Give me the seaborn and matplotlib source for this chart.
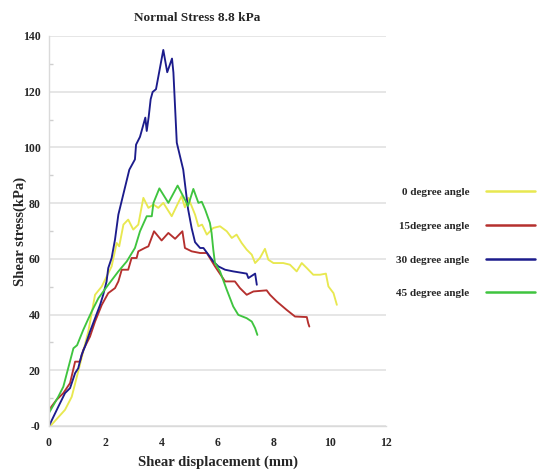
import matplotlib
matplotlib.use("Agg")
import matplotlib.pyplot as plt
from matplotlib.lines import Line2D
import numpy as np
import pandas as pd
import seaborn as sns

# Shear displacement (mm) and shear stress (kPa) for each interface angle
disp_0 = [0.05, 0.57, 0.81, 1.10, 1.40, 1.64, 1.88, 2.23, 2.41, 2.50, 2.65, 2.82, 3.00,
          3.18, 3.36, 3.54, 3.72, 3.89, 4.07, 4.37, 4.60, 4.72, 4.84, 4.96, 5.20, 5.32,
          5.45, 5.62, 5.85, 6.09, 6.33, 6.51, 6.68, 6.86, 7.04, 7.22, 7.34, 7.51, 7.69,
          7.81, 7.99, 8.34, 8.58, 8.82, 9.00, 9.18, 9.41, 9.65, 9.86, 9.95, 10.13, 10.25]
stress_0 = [0.0, 5.8, 10.5, 22.0, 34.0, 47.1, 50.1, 57.3, 65.7, 64.5, 72.3, 74.1, 70.5,
            72.3, 81.9, 78.3, 79.5, 78.3, 80.1, 75.3, 80.1, 82.5, 78.5, 81.9, 75.9, 71.7,
            72.3, 68.7, 71.1, 71.7, 69.9, 67.5, 68.7, 65.7, 63.3, 61.5, 58.5, 60.3, 63.6,
            59.7, 58.5, 58.5, 57.9, 55.5, 58.5, 56.7, 54.3, 54.3, 54.7, 50.1, 47.7, 43.5]

disp_15 = [0.0, 0.27, 0.51, 0.75, 0.93, 1.10, 1.22, 1.34, 1.46, 1.64, 1.88, 2.11, 2.35,
           2.47, 2.59, 2.82, 2.94, 3.12, 3.18, 3.41, 3.54, 3.74, 4.01, 4.25, 4.49, 4.75,
           4.84, 5.08, 5.38, 5.62, 5.91, 6.15, 6.27, 6.62, 6.80, 7.04, 7.28, 7.75, 7.87,
           8.11, 8.46, 8.76, 9.18, 9.23, 9.27]
stress_15 = [5.8, 9.4, 11.8, 15.4, 23.1, 23.1, 27.3, 29.7, 32.1, 37.5, 43.5, 47.7, 49.5,
             51.9, 56.1, 56.1, 60.3, 60.3, 62.7, 63.9, 64.5, 69.9, 66.6, 69.3, 67.2, 69.9,
             63.9, 62.7, 62.1, 62.1, 57.3, 53.7, 51.9, 51.9, 49.5, 47.1, 48.3, 48.7, 47.1,
             44.7, 41.7, 39.3, 39.1, 36.9, 35.7]

disp_30 = [0.0, 0.33, 0.57, 0.75, 0.93, 1.04, 1.16, 1.28, 1.46, 1.64, 1.82, 1.93, 2.05,
           2.11, 2.23, 2.35, 2.47, 2.86, 3.06, 3.10, 3.24, 3.43, 3.48, 3.55, 3.62, 3.69,
           3.81, 4.07, 4.21, 4.38, 4.43, 4.55, 4.78, 4.95, 5.08, 5.20, 5.38, 5.50, 5.85,
           6.03, 6.27, 6.56, 7.04, 7.10, 7.22, 7.34, 7.40]
stress_30 = [0.0, 6.9, 11.8, 13.6, 19.0, 20.7, 25.5, 28.5, 33.9, 38.7, 43.5, 47.1, 51.9,
             56.7, 60.3, 66.9, 75.9, 92.0, 95.7, 101.0, 103.8, 110.7, 105.9, 111.0, 117.3,
             119.9, 120.9, 135.0, 127.0, 131.9, 126.9, 101.7, 92.0, 78.0, 71.0, 66.0, 63.9,
             63.9, 59.1, 57.3, 56.1, 55.5, 54.7, 53.1, 53.9, 54.7, 50.7]

disp_45 = [0.0, 0.33, 0.51, 0.87, 1.00, 1.22, 1.40, 1.52, 1.76, 2.11, 2.47, 2.77, 3.06,
           3.24, 3.48, 3.66, 3.72, 3.93, 4.25, 4.58, 4.90, 4.95, 5.14, 5.32, 5.44, 5.56,
           5.73, 5.79, 5.85, 5.91, 6.09, 6.33, 6.56, 6.74, 7.04, 7.22, 7.34, 7.42]
stress_45 = [4.7, 10.5, 14.1, 27.9, 29.0, 34.5, 38.5, 41.1, 45.9, 50.7, 55.5, 59.1, 63.9,
             69.9, 75.3, 75.3, 80.1, 85.3, 80.1, 86.3, 80.1, 79.0, 85.1, 80.1, 80.5, 77.7,
             72.9, 69.3, 63.3, 58.5, 55.5, 48.9, 42.9, 39.9, 38.7, 37.5, 35.1, 32.7]

series_names = ["0 degree angle", "15degree angle", "30 degree angle", "45 degree angle"]
series_colors = ["#e8e850", "#b5302e", "#1c1c8c", "#3fc43f"]

x_ticks = [0, 2, 4, 6, 8, 10, 12]
y_ticks = [0, 20, 40, 60, 80, 100, 120, 140]
y_tick_labels = ["-0", "20", "40", "60", "80", "100", "120", "140"]

frames = []
for name, xs, ys in zip(series_names,
                        [disp_0, disp_15, disp_30, disp_45],
                        [stress_0, stress_15, stress_30, stress_45]):
    frames.append(pd.DataFrame({"disp": xs, "stress": ys, "angle": name}))
data = pd.concat(frames, ignore_index=True)

sns.set_theme(style="white")
plt.rcParams["font.family"] = ["Liberation Serif", "DejaVu Serif"]
plt.rcParams["font.weight"] = "bold"

fig = plt.figure(figsize=(5.41, 4.71), dpi=100)
ax = fig.add_axes([49 / 541, 45 / 471, 337 / 541, 390 / 471])

palette = dict(zip(series_names, series_colors))
sns.lineplot(data=data, x="disp", y="stress", hue="angle", units="angle",
             estimator=None, sort=False, palette=palette, linewidth=1.35,
             legend=False, ax=ax)

ax.set_xlim(0, 12)
ax.set_ylim(0, 140)
ax.set_xticks(x_ticks)
ax.set_xticklabels([str(t) for t in x_ticks])
ax.set_yticks(y_ticks)
ax.set_yticklabels(y_tick_labels)
ax.set_yticks(np.arange(10, 140, 20), minor=True)

ax.yaxis.grid(True, color="#e2e2e2", linewidth=1.2)
ax.xaxis.grid(False)
ax.set_axisbelow(True)

for side in ["top", "right"]:
    ax.spines[side].set_visible(False)
for side in ["left", "bottom"]:
    ax.spines[side].set_color("#dadada")
    ax.spines[side].set_linewidth(1.0)

ax.tick_params(axis="x", which="major", direction="out", length=4, width=1,
               color="#cfcfcf", pad=4, labelsize=8.5)
ax.tick_params(axis="y", which="major", length=0, pad=6, labelsize=8.5)
ax.tick_params(axis="y", which="minor", direction="in", length=3, width=1,
               color="#cfcfcf", left=True)
for lab in ax.get_xticklabels() + ax.get_yticklabels():
    lab.set_fontweight("bold")

ax.set_xlabel("")
ax.set_ylabel("")
fig.text(217.5 / 541, 1 - 462 / 471, "Shear displacement (mm)", ha="center",
         va="center", fontsize=10.5, fontweight="bold")
fig.text(20 / 541, 1 - 231 / 471, "Shear stress(kPa)", ha="center", va="center",
         rotation=90, fontsize=10.5, fontweight="bold")
fig.text(197 / 541, 1 - 18 / 471, "Normal Stress 8.8 kPa", ha="center",
         va="center", fontsize=9.5, fontweight="bold")

handles = [Line2D([0], [0], color=c, linewidth=1.8) for c in series_colors]
leg = fig.legend(handles, series_names, loc="upper left",
                 bbox_to_anchor=(392 / 541, 1 - 183 / 471), frameon=False,
                 markerfirst=False, fontsize=8, handlelength=4.4,
                 handletextpad=1.5, labelspacing=2.15, borderaxespad=0)
for t in leg.get_texts():
    t.set_fontweight("bold")

fig.savefig("out.png", dpi=100)
